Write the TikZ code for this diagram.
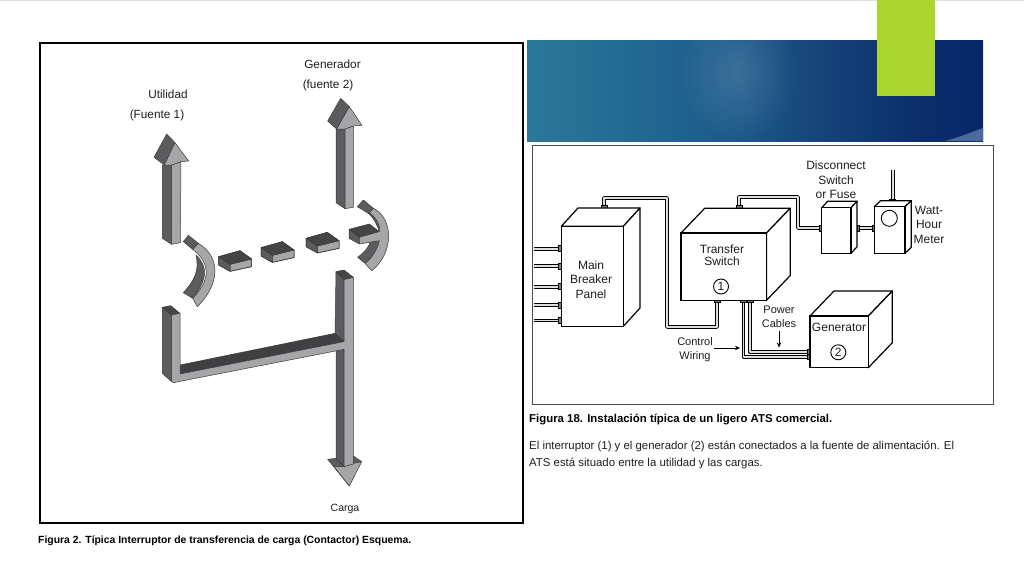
\documentclass[tikz,border=0pt]{standalone}
\usepackage{fontspec}
\setmainfont{Liberation Sans}
\usetikzlibrary{fadings,arrows.meta}
\definecolor{dk}{HTML}{5C5C5E}
\definecolor{lt}{HTML}{A6A6A8}
\definecolor{edge}{HTML}{3A3A3C}
\definecolor{ink}{HTML}{1E1E1E}
\definecolor{lime}{HTML}{ADD530}
\definecolor{wedge}{HTML}{4A6A9E}
\tikzfading[name=glow,inner color=transparent!0,outer color=transparent!100]
\pgfdeclarehorizontalshading{bannershade}{100bp}{
  rgb(0bp)=(0.17,0.47,0.60);
  rgb(25bp)=(0.17,0.47,0.60);
  rgb(37bp)=(0.13,0.41,0.57);
  rgb(48bp)=(0.11,0.35,0.54);
  rgb(58bp)=(0.08,0.26,0.47);
  rgb(68bp)=(0.04,0.18,0.42);
  rgb(75bp)=(0.03,0.15,0.40);
  rgb(100bp)=(0.03,0.15,0.40)}
\tikzset{
  x=1pt,y=-1pt,
  dkf/.style={fill=dk,draw=edge,line width=.5pt,line join=round},
  ltf/.style={fill=lt,draw=edge,line width=.5pt,line join=round},
  blk/.style={fill=edge,draw=edge,line width=.5pt,line join=round},
  lab/.style={font=\fontsize{11.8}{14}\selectfont,text=ink,inner sep=0pt,align=center},
  lab2/.style={font=\fontsize{12}{14.5}\selectfont,text=ink,inner sep=0pt,align=center},
  capb/.style={font=\bfseries\fontsize{10.4}{12}\selectfont,text=black,inner sep=0pt,anchor=west},
  capn/.style={font=\fontsize{11.4}{13}\selectfont,text=ink,inner sep=0pt,anchor=west},
  face/.style={draw=black,line width=1.2pt,fill=white,line join=round},
  front/.style={draw=black,line width=1.2pt,fill=white,inner sep=0pt},
  cableo/.style={draw=black,line width=3.6pt,line join=round},
  cablei/.style={draw=gray!25,line width=1.6pt,line join=round},
  tab/.style={fill=gray,draw=black,line width=.5pt},
  num/.style={circle,draw=black,line width=.9pt,inner sep=0pt,minimum size=15pt,font=\fontsize{12}{12}\selectfont,text=ink},
  pointer/.style={draw=black,line width=.7pt,-{Stealth[length=5pt,width=4.5pt]}}
}
\newcommand{\cbl}[1]{\draw[cableo] #1; \draw[cablei] #1;}
\newcommand{\threed}[6]{% x1 y1 x2 y2 dx dy
  \draw[face] (#1,#2) -- ++(#5,-#6) -- (#3+#5,#2-#6) -- (#3,#2) -- cycle;
  \draw[face] (#3,#2) -- (#3+#5,#2-#6) -- (#3+#5,#4-#6) -- (#3,#4) -- cycle;}
\newcommand{\zbox}[2]{%
  \begin{scope}[shift={(#1,#2)}]
    \fill[ltf] (330,643) -- (395,627) -- (395,650) -- (330,664) -- cycle;
    \fill[dkf] (296,620) -- (296,645) -- (330,664) -- (330,643) -- cycle;
    \fill[blk,fill=dk!75!black] (296,620) -- (360,602) -- (395,627) -- (330,643) -- cycle;
    \draw[edge,line width=.5pt] (296,620) -- (360,602) -- (395,627) -- (395,650) -- (330,664) -- (296,645) -- cycle;
  \end{scope}}
\begin{document}
\begin{tikzpicture}
\useasboundingbox (0,0) rectangle (1024,576);
\fill[white] (0,0) rectangle (1024,576);
\fill[gray!25] (0,0) rectangle (1024,1);

% banner
\shade[shading=bannershade] (527,40) rectangle (983,141);
\begin{scope}
  \clip (527,40) rectangle (983,141);
  \fill[white,opacity=.14,path fading=glow] (738,72) ellipse (60 and 70);
  \fill[wedge] (945,141) .. controls (960,137) and (972,132) .. (983,128) -- (983,141) -- cycle;
\end{scope}
\fill[lime] (877,0) rectangle (935,96);

% frames
\draw[black,line width=1.4pt] (40,43) rectangle (523,523);
\draw[black!70,line width=1pt] (532,145) rectangle (993,404);

% LEFT diagram, upper part
\begin{scope}[shift={(120,50)},x=.33333pt,y=-.33333pt]
  % left arrow
  \fill[dkf] (127,345) -- (155,345) -- (155,583) -- (127,565) -- cycle;
  \fill[ltf] (155,345) -- (183,335) -- (181,578) -- (155,583) -- cycle;
  \fill[dkf] (102,322) -- (140,252) -- (165,278) -- (133,345) -- cycle;
  \fill[ltf] (165,278) -- (206,333) -- (183,335) -- (155,345) -- (133,345) -- cycle;
  % right arrow
  \fill[dkf] (648,237) -- (675,237) -- (675,476) -- (648,458) -- cycle;
  \fill[ltf] (675,237) -- (700,228) -- (700,472) -- (675,476) -- cycle;
  \fill[dkf] (623,213) -- (662,145) -- (688,170) -- (650,237) -- cycle;
  \fill[ltf] (688,170) -- (726,226) -- (700,228) -- (675,237) -- (650,237) -- cycle;
  % left contact
  \fill[dkf] (190,575) -- (205,556) -- (235,580) -- (218,598) -- cycle;
  \fill[dkf] (228,615) .. controls (265,650) and (262,690) .. (218,745) -- (190,728) .. controls (225,690) and (238,660) .. (228,615) -- cycle;
  \fill[ltf] (235,580) .. controls (302,620) and (302,700) .. (232,770) -- (218,745) .. controls (272,690) and (272,640) .. (218,598) -- cycle;
  % boxes
  \zbox{0}{0}\zbox{127}{-27}\zbox{262}{-55}
  % right contact
  \fill[dkf] (712,470) -- (730,450) -- (760,475) -- (745,490) -- cycle;
  \fill[dkf] (745,490) -- (760,475) -- (785,525) -- (778,545) .. controls (772,525) and (762,505) .. (745,490) -- cycle;
  \fill[dkf] (713,622) .. controls (735,605) and (748,590) .. (752,572) -- (780,570) .. controls (772,600) and (755,625) .. (735,640) -- cycle;
  \fill[blk,fill=dk!75!black] (687,538) -- (748,522) -- (778,545) -- (718,562) -- cycle;
  \fill[dkf] (687,538) -- (687,565) -- (718,582) -- (718,562) -- cycle;
  \fill[ltf] (760,475) .. controls (822,505) and (822,610) .. (755,662) -- (735,640) .. controls (755,625) and (772,600) .. (778,572) -- (718,582) -- (718,562) -- (778,545) .. controls (782,530) and (772,505) .. (748,488) -- cycle;
\end{scope}

% LEFT diagram, lower part
\begin{scope}[shift={(140,270)},x=.33333pt,y=-.33333pt]
  % right vertical
  \fill[dkf] (588,5) -- (612,28) -- (612,215) -- (585,190) -- cycle;
  \fill[dkf] (588,238) -- (612,238) -- (612,590) -- (588,565) -- cycle;
  % head
  \fill[dkf] (563,568) -- (588,565) -- (612,590) -- (628,648) -- cycle;
  \fill[dkf] (640,558) -- (665,575) -- (640,582) -- cycle;
  \fill[ltf] (612,590) -- (640,580) -- (665,575) -- (628,648) -- (582,590) -- cycle;
  % stub
  \fill[dkf] (67,112) -- (95,135) -- (95,335) -- (67,310) -- cycle;
  \fill[blk,fill=dk!75!black] (67,112) -- (92,107) -- (120,130) -- (95,135) -- cycle;
  % channel
  \fill[blk,fill=dk!70!black] (120,285) -- (585,190) -- (612,215) -- (120,312) -- cycle;
  % light faces
  \fill[ltf] (95,135) -- (120,130) -- (120,312) -- (612,215) -- (612,28) -- (640,22) -- (640,582) -- (612,590) -- (612,238) -- (100,338) -- (95,335) -- cycle;
  \fill[blk,fill=dk!75!black] (588,5) -- (612,0) -- (640,22) -- (612,28) -- cycle;
\end{scope}

% left labels
\node[lab] (util) at (168,94.5) {Utilidad};
\node[lab] (f1) at (157,115) {(Fuente 1)};
\node[lab] (gen) at (332.5,64) {Generador};
\node[lab] (f2) at (328,85.5) {(fuente 2)};
\node[lab,font=\fontsize{10.5}{12}\selectfont] (carga) at (345,508.5) {Carga};

% RIGHT diagram: cables behind boxes
\coordinate (mbtop) at (604,208);
\coordinate (tsbot) at (717,300);
\coordinate (tstop) at (739,208);
\coordinate (dsleft) at (821,228);
\coordinate (pa) at (743.5,300);
\coordinate (pb) at (749.8,300);
\coordinate (ga) at (810,356.8);
\coordinate (gb) at (810,351.8);
\cbl{(mbtop) -- (604,198) -- (667,198) -- (667,327) -- (717,327) -- (tsbot)}
\cbl{(tstop) -- (739,197) -- (798,197) -- (798,228) -- (dsleft)}
\cbl{(pa) -- (743.5,356.8) -- (ga)}
\cbl{(pb) -- (749.8,351.8) -- (gb)}
\coordinate (st1) at (534,248.7);\coordinate (st2) at (534,266);\coordinate (st3) at (534,286.7);\coordinate (st4) at (534,305);\coordinate (st5) at (534,320.3);
\foreach \n/\y in {1/248.7,2/266,3/286.7,4/305,5/320.3}{
  \cbl{(st\n) -- (560,\y)}
  \fill[tab] (558.5,\y-3) rectangle (561.5,\y+3);
}
\coordinate (lka) at (858,228);\coordinate (lkb) at (874,228);
\cbl{(lka) -- (lkb)}
\coordinate (anta) at (892.7,201);\coordinate (antb) at (892.7,170);
\cbl{(anta) -- (antb)}
\foreach \x/\y/\w/\h in {601/205.5/6/2.5,736/205.5/6/2.5,714/300/6/2.5,740.5/300/6/2.5,747/300/6/2.5,889.5/199/6/2.5}{
  \fill[tab] (\x,\y) rectangle (\x+\w,\y+\h);
}
\foreach \x/\y/\w/\h in {819.5/225/2.5/6,857/225/2.5/6,872/225/2.5/6,807.5/349/2.5/5,807.5/354/2.5/5}{
  \fill[tab] (\x,\y) rectangle (\x+\w,\y+\h);
}

% boxes
\threed{561.3}{226.3}{623.3}{326.3}{16.7}{18.3}
\node[front,minimum width=62pt,minimum height=100pt] (mbp) at (592.3,276.3) {};
\node[lab2] (mblab) at (591,279.5) {Main\\Breaker\\Panel};
\threed{681}{233}{766.5}{300.3}{23.7}{24.7}
\node[front,minimum width=85.5pt,minimum height=67.3pt] (ts) at (723.7,266.6) {};
\node[lab2,font=\fontsize{12}{12.5}\selectfont] (tslab) at (722,255.2) {Transfer\\Switch};
\node[num] (n1) at (721,286.5) {1};
\threed{821.7}{207.7}{851}{253.3}{6}{6.5}
\node[front,minimum width=29.3pt,minimum height=45.6pt] (ds) at (836.3,230.5) {};
\threed{874.3}{206.7}{905}{253.3}{6.3}{6}
\node[front,minimum width=30.7pt,minimum height=46.6pt] (wm) at (889.6,230) {};
\node[circle,draw=black,line width=.9pt,inner sep=0pt,minimum size=16pt] (dial) at (889.3,218.3) {};
\threed{810}{316}{868.3}{367.7}{24}{25}
\node[front,minimum width=58.3pt,minimum height=51.7pt] (gn) at (839.2,341.8) {};
\node[lab2] (gnlab) at (839,327.5) {Generator};
\node[num] (n2) at (838.3,352.3) {2};

% right labels
\node[lab2] (dlab) at (836,180) {Disconnect\\Switch\\or Fuse};
\node[lab2] (wlab) at (929,224.5) {Watt-\\Hour\\Meter};
\node[lab,font=\fontsize{11}{14}\selectfont] (pc) at (779,317) {Power\\Cables};
\node[lab,font=\fontsize{11}{14.5}\selectfont] (cw) at (695,349.5) {Control\\Wiring};
\coordinate (cwa) at (714,348);\coordinate (cwb) at (740,348);
\coordinate (pca) at (779,331);\coordinate (pcb) at (779,347.5);
\draw[pointer] (cwa) -- (cwb);
\draw[pointer] (pca) -- (pcb);

% captions
\node[capb] (c2) at (38,541) {Figura 2. Típica Interruptor de transferencia de carga (Contactor) Esquema.};
\node[capb,font=\bfseries\fontsize{11.4}{12}\selectfont] (c18) at (529,420) {Figura 18. Instalación típica de un ligero ATS comercial.};
\node[capn] (p1) at (529,446) {El interruptor (1) y el generador (2) están conectados a la fuente de alimentación. El};
\node[capn] (p2) at (529,463) {ATS está situado entre la utilidad y las cargas.};
\end{tikzpicture}
\end{document}
